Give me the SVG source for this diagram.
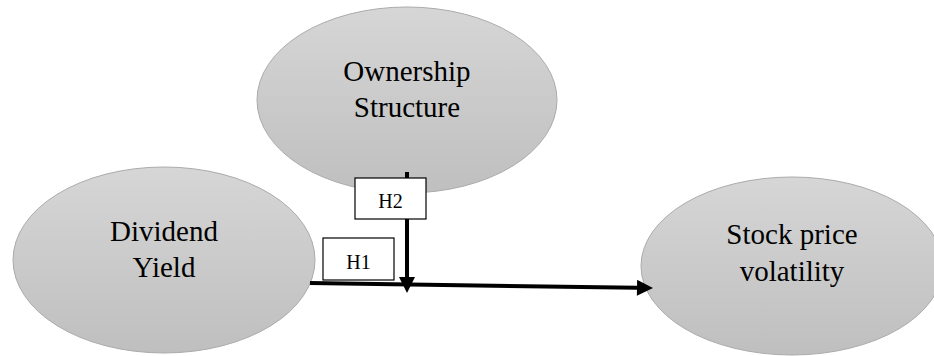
<svg xmlns="http://www.w3.org/2000/svg" width="934" height="356" viewBox="0 0 934 356">
<defs>
<linearGradient id="g" x1="0" y1="0" x2="0" y2="1">
<stop offset="0" stop-color="#d6d6d6"/>
<stop offset="1" stop-color="#bfbfbf"/>
</linearGradient>
<marker id="ah" viewBox="0 0 16 16" markerWidth="17" markerHeight="16" refX="0" refY="8" markerUnits="userSpaceOnUse" orient="auto">
<path d="M0,0 L16,8 L0,16 z" fill="#000"/>
</marker>
<style>
.node ellipse{fill:url(#g);stroke:#ababab;stroke-width:1}
.lbl{font-family:"Liberation Serif","Times New Roman",serif;font-size:29px;fill:#000;text-anchor:middle}
.hb rect{fill:#fff;stroke:#000;stroke-width:1.2}
.hb text{font-family:"Liberation Serif","Times New Roman",serif;font-size:20px;fill:#000;text-anchor:middle}
.conn{stroke:#000;stroke-width:4;fill:none}
</style>
</defs>
<g id="ownership" class="node">
<ellipse cx="407" cy="100" rx="150" ry="93"/>
<text class="lbl" x="407" y="81">Ownership</text>
<text class="lbl" x="407" y="117">Structure</text>
</g>
<g id="dividend" class="node">
<ellipse cx="164" cy="260" rx="151" ry="93"/>
<text class="lbl" x="164" y="241">Dividend</text>
<text class="lbl" x="164" y="277">Yield</text>
</g>
<g id="stock" class="node">
<ellipse cx="792" cy="266" rx="151" ry="89"/>
<text class="lbl" x="792" y="244">Stock price</text>
<text class="lbl" x="792" y="281">volatility</text>
</g>
<g id="connectors">
<line class="conn" x1="310" y1="283" x2="637" y2="287.8" marker-end="url(#ah)"/>
<line class="conn" x1="407" y1="172" x2="407" y2="277" marker-end="url(#ah)"/>
</g>
<g id="h2" class="hb">
<rect x="355" y="178" width="71" height="41"/>
<text x="390.5" y="208">H2</text>
</g>
<g id="h1" class="hb">
<rect x="323" y="238" width="71" height="42"/>
<text x="358.5" y="269">H1</text>
</g>
</svg>
